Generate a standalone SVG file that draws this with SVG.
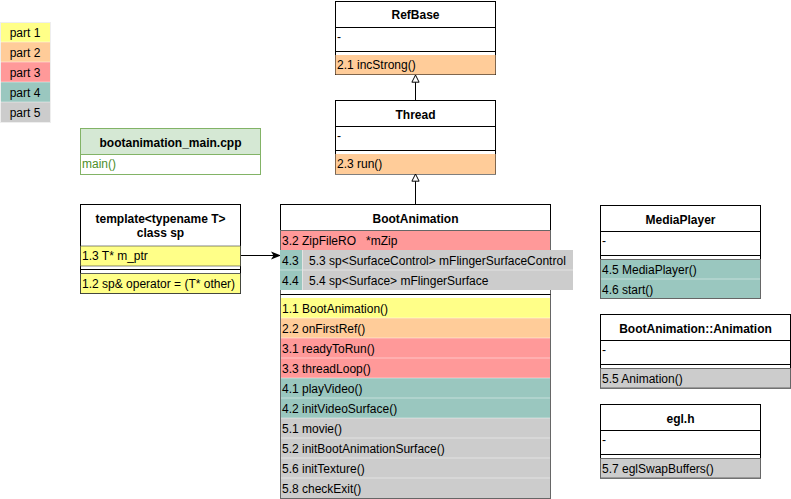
<svg xmlns="http://www.w3.org/2000/svg" width="791" height="499" viewBox="0 0 791 499">
<defs>
<style>
text{font-family:"Liberation Sans",Arial,sans-serif;font-size:12px;fill:#000;white-space:pre}
.b{font-weight:bold}
.c{text-anchor:middle}
.box{fill:#fff;stroke:#000;stroke-width:1}
.p1{fill:#ffff88}
.p2{fill:#ffcc99}
.p3{fill:#ff9999}
.p4{fill:#9ac7bf}
.p5{fill:#cccccc}
.sep{stroke:#fff;stroke-opacity:0.45;stroke-width:1}
.out{fill:none;stroke:#666;stroke-width:1}
.edge{stroke:#000;stroke-width:1;fill:none}
</style>
<marker id="tri" viewBox="0 0 10 10" refX="9" refY="5" markerWidth="9" markerHeight="9" orient="auto" markerUnits="userSpaceOnUse">
<path d="M1,1 L9,5 L1,9 Z" fill="#fff" stroke="#000" stroke-width="1.1"/>
</marker>
<marker id="arr" viewBox="0 0 10 10" refX="9" refY="5" markerWidth="10" markerHeight="10" orient="auto" markerUnits="userSpaceOnUse">
<path d="M0,1 L10,5 L0,9 L2.5,5 Z" fill="#000"/>
</marker>
</defs>
<rect width="791" height="499" fill="#fff"/>

<g id="legend">
<rect class="p1" x="0" y="22" width="50" height="20"/>
<rect class="p2" x="0" y="42" width="50" height="20"/>
<rect class="p3" x="0" y="62" width="50" height="20"/>
<rect class="p4" x="0" y="82" width="50" height="20"/>
<rect class="p5" x="0" y="102" width="50" height="20"/>
<rect x="0.5" y="22.5" width="50" height="100" fill="none" stroke="#eee"/>
<line class="sep" x1="0" y1="42" x2="50" y2="42"/>
<line class="sep" x1="0" y1="62" x2="50" y2="62"/>
<line class="sep" x1="0" y1="82" x2="50" y2="82"/>
<line class="sep" x1="0" y1="102" x2="50" y2="102"/>
<text class="c" x="25" y="37">part 1</text>
<text class="c" x="25" y="57">part 2</text>
<text class="c" x="25" y="77">part 3</text>
<text class="c" x="25" y="97">part 4</text>
<text class="c" x="25" y="117">part 5</text>
</g>

<g id="connectors">
<line class="edge" x1="415.5" y1="100" x2="415.5" y2="75" marker-end="url(#tri)"/>
<line class="edge" x1="415.5" y1="204" x2="415.5" y2="174" marker-end="url(#tri)"/>
<line class="edge" x1="240" y1="255.5" x2="280" y2="255.5" marker-end="url(#arr)"/>
</g>

<g id="refbase">
<rect class="box" x="335.5" y="1.5" width="160" height="73"/>
<line class="edge" x1="335.5" y1="27.5" x2="495.5" y2="27.5"/>
<line class="edge" x1="335.5" y1="51.5" x2="495.5" y2="51.5"/>
<rect class="p2" x="335.5" y="55" width="160" height="19.5"/>
<text class="c b" x="415.5" y="19">RefBase</text>
<text x="337" y="41">-</text>
<text x="337" y="69">2.1 incStrong()</text>
</g>

<g id="thread">
<rect class="box" x="335.5" y="100.5" width="160" height="73.5"/>
<line class="edge" x1="335.5" y1="126.5" x2="495.5" y2="126.5"/>
<line class="edge" x1="335.5" y1="150.5" x2="495.5" y2="150.5"/>
<rect class="p2" x="335.5" y="154" width="160" height="20"/>
<text class="c b" x="415.5" y="119">Thread</text>
<text x="337" y="140">-</text>
<text x="337" y="168">2.3 run()</text>
</g>

<g id="bootanimation_main">
<rect x="80.5" y="128.5" width="180" height="46" fill="#fff" stroke="#82b366"/>
<rect x="80.5" y="128.5" width="180" height="26" fill="#d5e8d4" stroke="#82b366"/>
<text class="c b" x="170.5" y="147">bootanimation_main.cpp</text>
<text x="82" y="168" style="fill:#4e8f2a">main()</text>
</g>

<g id="sp">
<rect class="box" x="80.5" y="204.5" width="160" height="89"/>
<rect class="p1" x="80.5" y="246" width="160" height="20" stroke="#36393d" stroke-opacity="0.6"/>
<line class="edge" x1="80.5" y1="269.5" x2="240.5" y2="269.5"/>
<rect class="p1" x="80.5" y="273.5" width="160" height="20" stroke="#36393d" stroke-opacity="0.8"/>
<text class="c b" x="160.5" y="222.5">template&lt;typename T&gt;</text>
<text class="c b" x="160.5" y="236.5">class sp</text>
<text x="82" y="260">1.3 T* m_ptr</text>
<text x="82" y="288">1.2 sp&amp; operator = (T* other)</text>
</g>

<g id="bootanimation">
<rect class="box" x="280.5" y="204.5" width="270" height="294"/>
<line class="edge" x1="280.5" y1="230.5" x2="550.5" y2="230.5"/>
<rect class="p3" x="281" y="231" width="269" height="19"/>
<rect class="p1" x="281" y="298" width="269" height="20"/>
<rect class="p2" x="281" y="318" width="269" height="20"/>
<rect class="p3" x="281" y="338" width="269" height="40"/>
<rect class="p4" x="281" y="378" width="269" height="40"/>
<rect class="p5" x="281" y="418" width="269" height="80"/>
<line class="sep" x1="281" y1="318" x2="550" y2="318"/>
<line class="sep" x1="281" y1="338" x2="550" y2="338"/>
<line class="sep" x1="281" y1="358" x2="550" y2="358"/>
<line class="sep" x1="281" y1="378" x2="550" y2="378"/>
<line class="sep" x1="281" y1="398" x2="550" y2="398"/>
<line class="sep" x1="281" y1="418" x2="550" y2="418"/>
<line class="sep" x1="281" y1="438" x2="550" y2="438"/>
<line class="sep" x1="281" y1="458" x2="550" y2="458"/>
<line class="sep" x1="281" y1="478" x2="550" y2="478"/>
<rect class="out" x="280.5" y="230.5" width="270" height="268"/>
<line class="edge" x1="280.5" y1="294.5" x2="550.5" y2="294.5"/>
<rect class="p5" x="302" y="250" width="271" height="40"/>
<rect class="p4" x="280" y="250" width="22" height="40"/>
<line class="sep" x1="280" y1="270" x2="573" y2="270"/>
<line x1="302.5" y1="250" x2="302.5" y2="290" stroke="#e4e4e4"/>
<text class="c b" x="415.5" y="223">BootAnimation</text>
<text x="282" y="245" xml:space="preserve">3.2 ZipFileRO   *mZip</text>
<text x="282" y="265">4.3</text>
<text x="282" y="285">4.4</text>
<text x="309" y="265">5.3 sp&lt;SurfaceControl&gt; mFlingerSurfaceControl</text>
<text x="309" y="285">5.4 sp&lt;Surface&gt; mFlingerSurface</text>
<text x="282" y="313">1.1 BootAnimation()</text>
<text x="282" y="333">2.2 onFirstRef()</text>
<text x="282" y="353">3.1 readyToRun()</text>
<text x="282" y="373">3.3 threadLoop()</text>
<text x="282" y="393">4.1 playVideo()</text>
<text x="282" y="413">4.2 initVideoSurface()</text>
<text x="282" y="433">5.1 movie()</text>
<text x="282" y="453">5.2 initBootAnimationSurface()</text>
<text x="282" y="473">5.6 initTexture()</text>
<text x="282" y="493">5.8 checkExit()</text>
</g>

<g id="mediaplayer">
<rect class="box" x="600.5" y="205.5" width="160" height="93"/>
<line class="edge" x1="600.5" y1="231.5" x2="760.5" y2="231.5"/>
<line class="edge" x1="600.5" y1="255.5" x2="760.5" y2="255.5"/>
<rect class="p4" x="601" y="259" width="159" height="40"/>
<line class="sep" x1="601" y1="279" x2="760" y2="279"/>
<rect class="out" x="600.5" y="259.5" width="160" height="39"/>
<text class="c b" x="680.5" y="224">MediaPlayer</text>
<text x="602" y="245">-</text>
<text x="602" y="274">4.5 MediaPlayer()</text>
<text x="602" y="294">4.6 start()</text>
</g>

<g id="animation">
<rect class="box" x="600.5" y="314.5" width="190" height="73.5"/>
<line class="edge" x1="600.5" y1="340.5" x2="790.5" y2="340.5"/>
<line class="edge" x1="600.5" y1="364.5" x2="790.5" y2="364.5"/>
<rect class="p5" x="601" y="368.5" width="189" height="19.5"/>
<rect class="out" x="600.5" y="368.5" width="190" height="19.5"/>
<text class="c b" x="695.5" y="333">BootAnimation::Animation</text>
<text x="602" y="354">-</text>
<text x="602" y="383">5.5 Animation()</text>
</g>

<g id="egl">
<rect class="box" x="600.5" y="404.5" width="160" height="73.5"/>
<line class="edge" x1="600.5" y1="430.5" x2="760.5" y2="430.5"/>
<line class="edge" x1="600.5" y1="454.5" x2="760.5" y2="454.5"/>
<rect class="p5" x="601" y="458.5" width="159" height="19.5"/>
<rect class="out" x="600.5" y="458.5" width="160" height="19.5"/>
<text class="c b" x="680.5" y="423">egl.h</text>
<text x="602" y="444">-</text>
<text x="602" y="473">5.7 eglSwapBuffers()</text>
</g>
</svg>
